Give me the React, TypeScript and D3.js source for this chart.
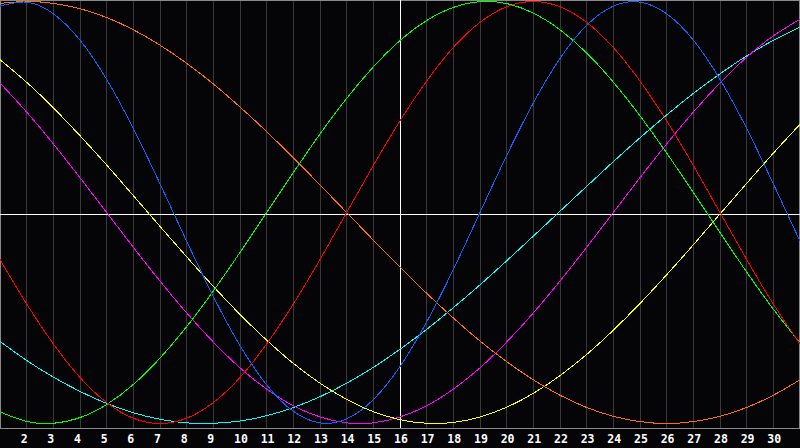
import React from 'react';
import * as d3 from 'd3';

// Day of month (x axis)
const days = [1, 2, 3, 4, 5, 6, 7, 8, 9, 10, 11, 12, 13, 14, 15, 16, 17, 18, 19, 20, 21, 22, 23, 24, 25, 26, 27, 28, 29, 30, 31];
const tickDays = [2, 3, 4, 5, 6, 7, 8, 9, 10, 11, 12, 13, 14, 15, 16, 17, 18, 19, 20, 21, 22, 23, 24, 25, 26, 27, 28, 29, 30];
const todayMark = 16;

// Series values (-1 .. 1), one per day
const blueValues = [0.978, 0.997, 0.942, 0.817, 0.631, 0.398, 0.136, -0.136, -0.398, -0.631, -0.817, -0.942, -0.997, -0.978, -0.887, -0.730, -0.519, -0.270, 0, 0.270, 0.519, 0.730, 0.887, 0.978, 0.997, 0.942, 0.817, 0.631, 0.398, 0.136, -0.136];
const redValues = [-0.223, -0.434, -0.623, -0.782, -0.901, -0.975, -1, -0.975, -0.901, -0.782, -0.623, -0.434, -0.223, 0, 0.223, 0.434, 0.623, 0.782, 0.901, 0.975, 1, 0.975, 0.901, 0.782, 0.623, 0.434, 0.223, 0, -0.223, -0.434, -0.623];
const greenValues = [-0.945, -0.990, -0.999, -0.972, -0.910, -0.815, -0.690, -0.541, -0.372, -0.189, 0, 0.189, 0.372, 0.541, 0.690, 0.815, 0.910, 0.972, 0.999, 0.990, 0.945, 0.866, 0.756, 0.618, 0.458, 0.282, 0.095, -0.095, -0.282, -0.458, -0.618];
const orangeValues = [0.991, 1, 0.991, 0.966, 0.924, 0.866, 0.793, 0.707, 0.609, 0.5, 0.383, 0.259, 0.131, 0, -0.131, -0.259, -0.383, -0.5, -0.609, -0.707, -0.793, -0.866, -0.924, -0.966, -0.991, -1, -0.991, -0.966, -0.924, -0.866, -0.793];
const yellowValues = [0.724, 0.617, 0.496, 0.364, 0.225, 0.080, -0.066, -0.210, -0.350, -0.483, -0.605, -0.715, -0.809, -0.886, -0.944, -0.982, -0.999, -0.995, -0.969, -0.923, -0.857, -0.773, -0.673, -0.558, -0.431, -0.295, -0.153, -0.007, 0.138, 0.281, 0.418];
const magentaValues = [0.614, 0.476, 0.325, 0.165, 0, -0.165, -0.325, -0.476, -0.614, -0.736, -0.837, -0.916, -0.969, -0.997, -0.997, -0.969, -0.916, -0.837, -0.736, -0.614, -0.476, -0.325, -0.165, 0, 0.165, 0.325, 0.476, 0.614, 0.736, 0.837, 0.916];
const cyanValues = [-0.611, -0.701, -0.780, -0.848, -0.905, -0.949, -0.980, -0.997, -0.999, -0.988, -0.963, -0.924, -0.873, -0.809, -0.734, -0.648, -0.554, -0.451, -0.343, -0.229, -0.112, 0.006, 0.124, 0.241, 0.354, 0.462, 0.564, 0.657, 0.742, 0.816, 0.879];

const seriesList = [cyanValues, magentaValues, yellowValues, orangeValues, greenValues, redValues, blueValues];
const seriesColors = ['#00ffff', '#ff00ff', '#ffff00', '#ff7000', '#00ff00', '#ff0000', '#0a64ff'];

const W = 800;
const H = 448;
const plotBottom = 428;

export default function App() {
  const x = d3.scaleLinear().domain([1, 31]).range([0, W]);
  const y = d3.scaleLinear().domain([-1, 1]).range([423.5, 1.5]);
  const snap = (v: number) => Math.floor(v) + 0.5;
  const zeroY = Math.round(y(0)) + 1.5;

  const line = d3
    .line<number>()
    .x((_, i) => x(days[i]))
    .y((v) => y(v))
    .curve(d3.curveNatural);

  return (
    <svg
      width={W}
      height={H}
      style={{ position: 'fixed', left: 0, top: 0, display: 'block', background: '#050507' }}
    >
      <rect x={0} y={0} width={W} height={H} fill="#050507" />
      {tickDays.map((d) => (
        <line
          key={'g' + d}
          x1={snap(x(d))}
          x2={snap(x(d))}
          y1={0}
          y2={plotBottom}
          stroke="#3a3a3a"
          strokeWidth={1}
          shapeRendering="crispEdges"
        />
      ))}
      <rect
        x={0.5}
        y={0.5}
        width={W - 1}
        height={plotBottom}
        fill="none"
        stroke="#8a8a8a"
        strokeWidth={1}
        shapeRendering="crispEdges"
      />
      <line
        x1={0}
        x2={W}
        y1={zeroY}
        y2={zeroY}
        stroke="#ffffff"
        strokeWidth={1}
        shapeRendering="crispEdges"
      />
      <line
        x1={snap(x(todayMark))}
        x2={snap(x(todayMark))}
        y1={0}
        y2={plotBottom}
        stroke="#ffffff"
        strokeWidth={1}
        shapeRendering="crispEdges"
      />
      {seriesList.map((vals, i) => (
        <path
          key={'s' + i}
          d={line(vals) || ''}
          fill="none"
          stroke={seriesColors[i]}
          strokeWidth={1}
          shapeRendering="crispEdges"
        />
      ))}
      {tickDays.map((d) => (
        <text
          key={'t' + d}
          x={x(d) - 6}
          y={443}
          fill="#ffffff"
          fontFamily="'DejaVu Sans Mono', monospace"
          fontWeight="bold"
          fontSize={11.5}
          textAnchor="start"
        >
          {String(d)}
        </text>
      ))}
    </svg>
  );
}
